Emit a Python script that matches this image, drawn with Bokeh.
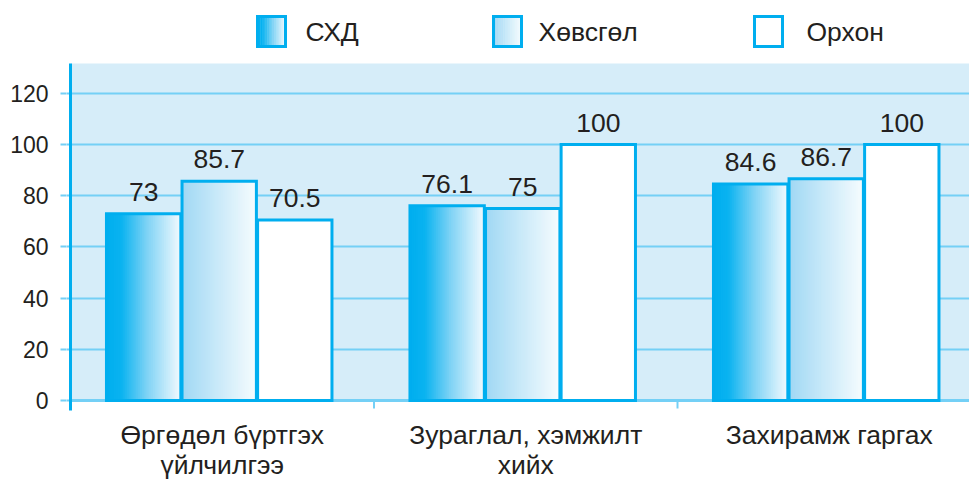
from bokeh.plotting import figure
from bokeh.models import Range1d, FixedTicker, ColumnDataSource, BoxAnnotation
from bokeh.embed import file_html
from bokeh.resources import INLINE
from bokeh.core.properties import value

# ---------------- data ----------------
categories = ["Өргөдөл бүртгэх\nүйлчилгээ", "Зураглал, хэмжилт\nхийх", "Захирамж гаргах"]
series = ["СХД", "Хөвсгөл", "Орхон"]
sxd = [73, 76.1, 84.6]
khovsgol = [85.7, 75, 86.7]
orkhon = [70.5, 100, 100]
y_ticks = [0, 20, 40, 60, 80, 100, 120]

# ---------------- style / layout ----------------
FONT = "Liberation Sans"
TXT = "#231f20"
BLUE = "#00aeef"
LIGHT = "#74d0f6"
BG = "#d6edf9"
gradients = [
    [(0.0, "#00aeef"), (0.2, "#0ab3f0"), (0.55, "#80d3f5"), (1.0, "#f3fafe")],
    [(0.0, "#a0d8f4"), (1.0, "#f6fcfe")],
    [(0.0, "#ffffff"), (1.0, "#ffffff")],
]
N_STRIPS = 40
BAR_W = 0.245
BAR_STEP = 0.249
GROUP_C = 0.49

W, H = 969, 482
FRAME_LEFT = 66          # px
X0_PX = 70               # px of x = 0
PX_PER_CAT = 303.5
ZERO_PX = 400            # px of y = 0
BG_TOP = 131.7           # value at top of the blue plot area
BG_TOP_PX = 63
K = (ZERO_PX - BG_TOP_PX) / BG_TOP   # px per unit


def dx(px):
    return (px - X0_PX) / PX_PER_CAT


def dy(py):
    return (ZERO_PX - py) / K


def hex2rgb(h):
    return tuple(int(h[i:i + 2], 16) for i in (1, 3, 5))


def grad(stops, t):
    for (t0, c0), (t1, c1) in zip(stops, stops[1:]):
        if t <= t1:
            u = (t - t0) / (t1 - t0) if t1 > t0 else 0.0
            a, b = hex2rgb(c0), hex2rgb(c1)
            return "#%02x%02x%02x" % tuple(round(a[k] + (b[k] - a[k]) * u) for k in range(3))
    return stops[-1][1]


p = figure(width=W, height=H,
           x_range=Range1d(dx(FRAME_LEFT), dx(W)), y_range=Range1d(dy(H), dy(0)),
           x_axis_location=None, output_backend="svg", toolbar_location=None,
           min_border_left=FRAME_LEFT, min_border_right=0, min_border_top=0, min_border_bottom=0)
p.background_fill_color = "white"
p.border_fill_color = "white"
p.outline_line_color = None
p.xgrid.grid_line_color = None
p.ygrid.ticker = FixedTicker(ticks=y_ticks)
p.ygrid.grid_line_color = LIGHT
p.ygrid.grid_line_width = 2

# blue plot area (below the grid)
p.add_layout(BoxAnnotation(left=0, bottom=0, top=BG_TOP, fill_color=BG, fill_alpha=1,
                           line_color=None, level="image"))

# baseline and category separators
p.segment(x0=[0], x1=[dx(W)], y0=[0], y1=[0], line_color=LIGHT, line_width=3)
p.segment(x0=list(range(1, len(categories))), x1=list(range(1, len(categories))),
          y0=[0] * (len(categories) - 1), y1=[dy(ZERO_PX + 8)] * (len(categories) - 1),
          line_color=LIGHT, line_width=2)

all_series = [sxd, khovsgol, orkhon]
for j, vals in enumerate(all_series):
    L, R, T, B, C = [], [], [], [], []
    ol, orr, ot = [], [], []
    for i, v in enumerate(vals):
        cx = i + GROUP_C + (j - 1) * BAR_STEP
        left = cx - BAR_W / 2
        sw = BAR_W / N_STRIPS
        for k in range(N_STRIPS):
            L.append(left + k * sw)
            R.append(min(left + (k + 1.6) * sw, left + BAR_W))
            T.append(v)
            B.append(0)
            C.append(grad(gradients[j], (k + 0.5) / N_STRIPS))
        ol.append(left)
        orr.append(left + BAR_W)
        ot.append(v)
    p.quad(left="l", right="r", top="t", bottom="b", fill_color="c", line_color=None,
           source=ColumnDataSource(dict(l=L, r=R, t=T, b=B, c=C)))
    p.quad(left=ol, right=orr, top=ot, bottom=[0] * len(ot), fill_color=None,
           line_color=BLUE, line_width=3, line_join="miter")
    p.text(x=[i + GROUP_C + (j - 1) * BAR_STEP for i in range(len(vals))], y=vals,
           text=[f"{v:g}" for v in vals], text_align="center", text_baseline="bottom",
           y_offset=-13, text_font=value(FONT), text_font_size="26.5px", text_color=TXT)

# y axis line (extends slightly below zero)
p.segment(x0=[0], x1=[0], y0=[dy(ZERO_PX + 10)], y1=[BG_TOP], line_color=BLUE, line_width=3)

# category labels
p.text(x=[i + 0.5 for i in range(len(categories))], y=[0] * len(categories), text=categories,
       text_align="center", text_baseline="top", y_offset=19, text_line_height=1.0,
       text_font=value(FONT), text_font_size="26.5px", text_color=TXT)

# y axis
ya = p.yaxis[0]
ya.ticker = FixedTicker(ticks=y_ticks)
ya.minor_tick_line_color = None
ya.axis_line_color = None
ya.major_tick_out = 6
ya.major_tick_in = 0
ya.major_tick_line_color = LIGHT
ya.major_tick_line_width = 2
ya.major_label_standoff = 12
ya.major_label_text_font = FONT
ya.major_label_text_font_size = "23px"
ya.major_label_text_color = TXT

# legend
sw_left = [257, 493, 754]
sw_w, sw_top, sw_bot = 28, 16, 46
txt_x = [305, 538, 806]
for j, name in enumerate(series):
    L, R, C = [], [], []
    s = sw_w / N_STRIPS
    for k in range(N_STRIPS):
        L.append(dx(sw_left[j] + k * s))
        R.append(dx(min(sw_left[j] + (k + 1.6) * s, sw_left[j] + sw_w)))
        C.append(grad(gradients[j], (k + 0.5) / N_STRIPS))
    p.quad(left=L, right=R, top=[dy(sw_top)] * N_STRIPS, bottom=[dy(sw_bot)] * N_STRIPS,
           fill_color=C, line_color=None)
    p.quad(left=[dx(sw_left[j])], right=[dx(sw_left[j] + sw_w)], top=[dy(sw_top)],
           bottom=[dy(sw_bot)], fill_color=None, line_color=BLUE, line_width=3,
           line_join="miter")
    p.text(x=[dx(txt_x[j])], y=[dy(31)], text=[name], text_align="left", text_baseline="middle",
           text_font=value(FONT), text_font_size="26.5px", text_color=TXT)

open("out.html", "w").write(file_html(p, INLINE))
